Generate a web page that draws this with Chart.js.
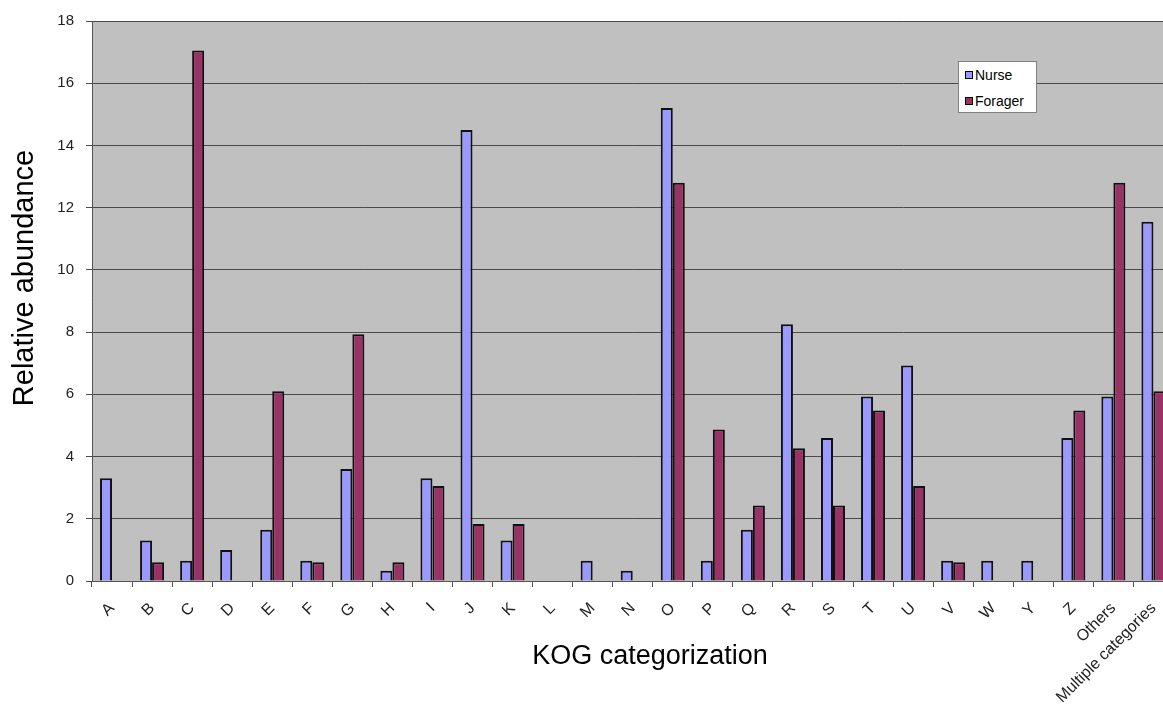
<!DOCTYPE html>
<html lang="en">
<head>
<meta charset="UTF-8" />
<title>KOG categorization</title>
<script src="https://cdn.jsdelivr.net/npm/chart.js"></script>
<style>
    html, body { margin: 0; padding: 0; background: #fff; overflow: hidden; }
    .janela { position: relative; width: 1179px; height: 706px; }
    .legenda {
        position: absolute; left: 958px; top: 61px; width: 77px; height: 50px;
        background: #fff; border: 1px solid #808080;
        font: 14px "Liberation Sans", Arial, sans-serif; color: #000;
    }
    .legenda div { position: absolute; left: 6px; height: 16px; line-height: 16px; }
    .legenda span.cx { display: inline-block; width: 6px; height: 6px; border: 1px solid #000; margin-right: 2px; vertical-align: 1px; }
</style>
</head>
<body>
<div class="janela">
    <canvas id="myChart"></canvas>
    <div class="legenda">
        <div style="top:5px"><span class="cx" style="background:#9999FF"></span>Nurse</div>
        <div style="top:31px"><span class="cx" style="background:#993366"></span>Forager</div>
    </div>
</div>

<script>
    // categorias KOG
    const categorias = ['A', 'B', 'C', 'D', 'E', 'F', 'G', 'H', 'I', 'J', 'K', 'L', 'M', 'N',
        'O', 'P', 'Q', 'R', 'S', 'T', 'U', 'V', 'W', 'Y', 'Z', 'Others', 'Multiple categories'];

    const nurse = [3.3, 1.3, 0.65, 1.0, 1.65, 0.65, 3.6, 0.33, 3.3, 14.5, 1.3, 0, 0.65, 0.33,
        15.2, 0.65, 1.65, 8.25, 4.6, 5.93, 6.93, 0.65, 0.65, 0.65, 4.6, 5.93, 11.55];

    const forager = [0, 0.6, 17.05, 0, 6.1, 0.6, 7.93, 0.6, 3.05, 1.83, 1.83, 0, 0, 0,
        12.8, 4.87, 2.43, 4.27, 2.43, 5.48, 3.05, 0.6, 0, 0, 5.48, 12.8, 6.1];

    const ticksY = [0, 2, 4, 6, 8, 10, 12, 14, 16, 18];

    // fundo cinza da area do grafico + titulos dos eixos
    const fundo = {
        id: 'fundo',
        beforeDraw(chart) {
            const { ctx, chartArea: a } = chart;
            ctx.save();
            ctx.fillStyle = '#C0C0C0';
            ctx.fillRect(a.left, a.top, a.right - a.left, a.bottom - a.top);
            ctx.strokeStyle = '#808080';
            ctx.lineWidth = 1;
            ctx.beginPath();
            ctx.moveTo(a.left, a.top + 0.5);
            ctx.lineTo(a.right, a.top + 0.5);
            ctx.stroke();
            ctx.restore();
        },
        afterDraw(chart) {
            const ctx = chart.ctx;
            ctx.save();
            ctx.fillStyle = '#000';
            ctx.textAlign = 'center';
            ctx.textBaseline = 'middle';
            ctx.font = '27px "Liberation Sans", Arial, sans-serif';
            ctx.fillText('KOG categorization', 650, 657);
            ctx.font = '29px "Liberation Sans", Arial, sans-serif';
            ctx.translate(25, 278);
            ctx.rotate(-Math.PI / 2);
            ctx.fillText('Relative abundance', 0, 0);
            ctx.restore();
        }
    };

    const dados = {
        labels: categorias,
        datasets: [{
            label: 'Nurse',
            data: nurse,
            backgroundColor: '#9999FF',
            borderColor: '#111',
            borderWidth: 2
        }, {
            label: 'Forager',
            data: forager,
            backgroundColor: '#993366',
            borderColor: '#111',
            borderWidth: 2
        }]
    };

    const config = {
        type: 'bar',
        data: dados,
        options: {
            responsive: true,
            maintainAspectRatio: false,
            animation: false,
            layout: { padding: { top: 21, right: 0, left: 0, bottom: 0 } },
            datasets: { bar: { categoryPercentage: 0.6, barPercentage: 1.0 } },
            plugins: {
                legend: { display: false },
                tooltip: { enabled: false }
            },
            scales: {
                x: {
                    grid: { offset: true, drawOnChartArea: false, drawTicks: true, tickLength: 6, color: '#555' },
                    border: { color: '#555', width: 1 },
                    ticks: {
                        maxRotation: 45, minRotation: 45, padding: 12, color: '#222',
                        font: { family: '"Liberation Sans", Arial, sans-serif', size: 16 }
                    },
                    afterFit(scale) { scale.height = 125; }
                },
                y: {
                    min: 0,
                    max: 18,
                    afterBuildTicks(scale) { scale.ticks = ticksY.map(v => ({ value: v })); },
                    grid: { color: '#4a4a4a', lineWidth: 1, tickLength: 6, drawTicks: true },
                    border: { color: '#555', width: 1 },
                    ticks: {
                        padding: 12, color: '#222',
                        font: { family: '"Liberation Sans", Arial, sans-serif', size: 15 }
                    },
                    afterFit(scale) { scale.width = 92; }
                }
            }
        },
        plugins: [fundo]
    };

    let myChart = new Chart(document.getElementById('myChart'), config);
</script>
</body>
</html>
